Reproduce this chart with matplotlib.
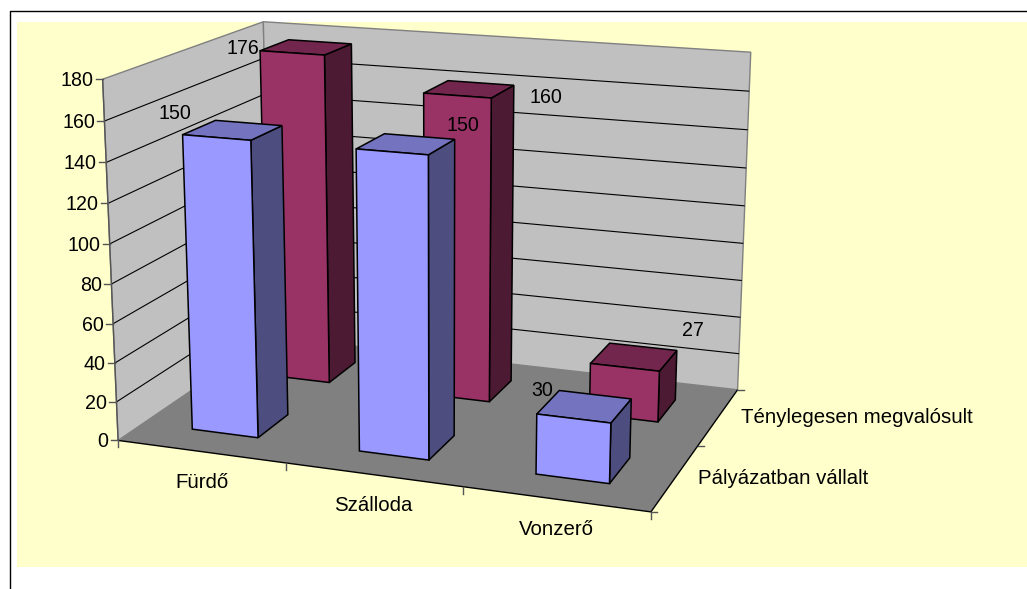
import numpy as np
import matplotlib
matplotlib.use("Agg")
import matplotlib.pyplot as plt
from matplotlib.patches import Polygon, Rectangle

plt.rcParams['font.family'] = ['Liberation Sans', 'DejaVu Sans']

# ---- data ----
categories = ["Fürdő", "Szálloda", "Vonzerő"]
series_names = ["Pályázatban vállalt", "Ténylegesen megvalósult"]
vallalt = [150, 150, 30]
megvalosult = [176, 160, 27]
z_ticks = [0, 20, 40, 60, 80, 100, 120, 140, 160, 180]

# ---- style ----
W, H = 1027, 589
Z_MAX = 180
BAR_W, BAR_D = 0.40, 0.40
colors = [("#9999FF", "#4D4D80", "#7373BF"), ("#993366", "#4D1A33", "#73264D")]
NUM_FONT = 14.1
TXT_FONT = 14.7
TEXT_DY = 1.5
# 3D view: (category, series, value) -> figure pixels
VIEW = np.array([[159.8181726, 97.1575225, -0.1120853, 118.1199185],
                 [9.8386208, -25.7246982, -2.0269281, 440.4284909],
                 [-0.0273153, 0.0777993, -0.000254, 1.0]])


def proj(x, y, z):
    h = VIEW @ np.array([x, y, z, 1.0])
    return h[0] / h[2], h[1] / h[2]


fig = plt.figure(figsize=(W / 100, H / 100), dpi=100, facecolor="white")
ax = fig.add_axes([0, 0, 1, 1])
ax.set_xlim(0, W)
ax.set_ylim(H, 0)
ax.axis("off")

ax.add_patch(Rectangle((17, 22), W - 17, 545, fc="#FFFFCC", ec="none", zorder=0))
ax.plot([9.5, 9.5, W], [H, 10.5, 10.5], color="black", lw=1.0, zorder=1)


def poly(pts, fc, ec="none", lw=0.0, z=2):
    ax.add_patch(Polygon([proj(*p) for p in pts], closed=True, fc=fc, ec=ec, lw=lw,
                         zorder=z, joinstyle="miter"))


def seg(a, b, color="black", lw=0.8, z=3):
    pa, pb = proj(*a), proj(*b)
    ax.plot([pa[0], pb[0]], [pa[1], pb[1]], color=color, lw=lw, zorder=z,
            solid_capstyle="butt")


# walls and floor
poly([(0, 0, 0), (0, 2, 0), (0, 2, Z_MAX), (0, 0, Z_MAX)], "#C0C0C0", "#808080", 1.0)
poly([(0, 2, 0), (3, 2, 0), (3, 2, Z_MAX), (0, 2, Z_MAX)], "#C0C0C0", "#808080", 1.0)
poly([(0, 0, 0), (3, 0, 0), (3, 2, 0), (0, 2, 0)], "#808080")
for t in z_ticks[1:-1]:
    seg((0, 0, t), (0, 2, t))
    seg((0, 2, t), (3, 2, t))
# axes lines and ticks
seg((0, 0, 0), (3, 0, 0), "black", 1.0)
seg((3, 0, 0), (3, 2, 0), "black", 1.0)
seg((0, 0, 0), (0, 0, Z_MAX), "#555555", 1.0)
for t in z_ticks:
    u, v = proj(0, 0, t)
    ax.plot([u - 7, u], [v, v], color="#555555", lw=1.0, zorder=3)
    ax.text(u - 9.5, v + TEXT_DY, str(t), ha="right", va="center", fontsize=NUM_FONT,
            color="black", zorder=6)
for i in range(4):
    u, v = proj(i, 0, 0)
    ax.plot([u, u], [v, v + 7], color="#555555", lw=1.0, zorder=3)
for j in range(3):
    u, v = proj(3, j, 0)
    ax.plot([u, u + 6], [v, v], color="#555555", lw=1.0, zorder=3)

# bars: back row first, left to right
values = [vallalt, megvalosult]
for j in (1, 0):
    y0, y1 = j + 0.5 - BAR_D / 2, j + 0.5 + BAR_D / 2
    front, side, top = colors[j]
    for i, val in enumerate(values[j]):
        x0, x1 = i + 0.5 - BAR_W / 2, i + 0.5 + BAR_W / 2
        z = 4 + (1 - j) + i * 0.1
        poly([(x1, y0, 0), (x1, y1, 0), (x1, y1, val), (x1, y0, val)], side, "black", 1.1, z)
        poly([(x0, y0, val), (x1, y0, val), (x1, y1, val), (x0, y1, val)], top, "black", 1.1, z)
        poly([(x0, y0, 0), (x1, y0, 0), (x1, y0, val), (x0, y0, val)], front, "black", 1.1, z)

# data labels
label_pos = {(0, 0): (175, 112), (0, 1): (463, 124), (0, 2): (542, 389),
             (1, 0): (242.5, 47), (1, 1): (545.7, 95.7), (1, 2): (693, 329.5)}
for j in range(2):
    for i, val in enumerate(values[j]):
        u, v = label_pos[(j, i)]
        ax.text(u, v + TEXT_DY, str(val), ha="center", va="center", fontsize=NUM_FONT, zorder=7)

# category and series labels
cat_label_pos = [(202, 481), (373, 504), (556, 528)]
for name, (u, v) in zip(categories, cat_label_pos):
    ax.text(u, v + TEXT_DY, name, ha="center", va="center", fontsize=TXT_FONT, zorder=6)
ser_label_pos = [(698, 477), (741, 416)]
for name, (u, v) in zip(series_names, ser_label_pos):
    ax.text(u, v + TEXT_DY, name, ha="left", va="center", fontsize=TXT_FONT, zorder=6)

fig.savefig("out.png", dpi=100, facecolor="white")
